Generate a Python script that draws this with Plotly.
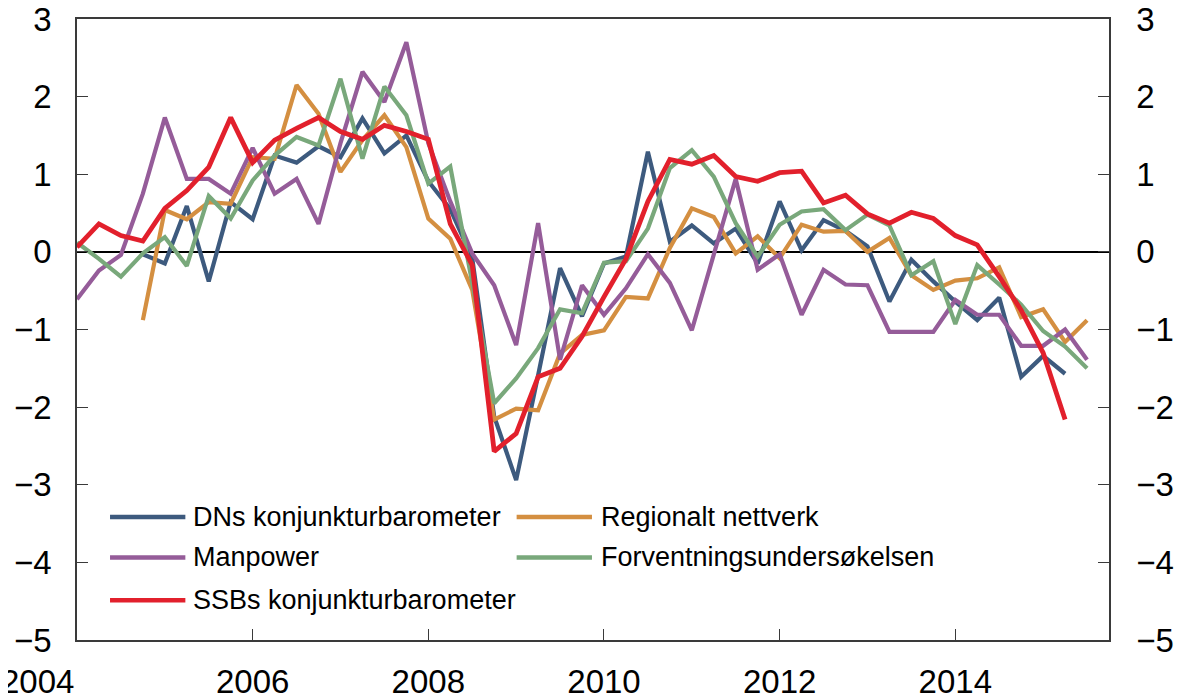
import plotly.graph_objects as go

# Quarterly observations, 2004Q1 .. 2015Q3
start_year = 2004
n_quarters = 47
quarters = [start_year + q * 0.25 for q in range(n_quarters)]

dns = [None, None, None, -0.03, -0.15, 0.59, -0.38, 0.64, 0.42, 1.24,
       1.15, 1.36, 1.22, 1.72, 1.27, 1.50, 0.91, 0.55, -0.08, -2.12,
       -2.94, -1.59, -0.21, -0.83, -0.15, -0.06, 1.29, 0.13, 0.34, 0.11,
       0.30, -0.15, 0.65, 0.02, 0.41, 0.27, 0.07, -0.64, -0.10, -0.38,
       -0.64, -0.88, -0.59, -1.61, -1.34, -1.57, None]

regional = [None, None, None, -0.88, 0.54, 0.42, 0.64, 0.62, 1.22, 1.20,
            2.15, 1.78, 1.03, 1.44, 1.76, 1.35, 0.43, 0.17, -0.49, -2.16,
            -2.02, -2.04, -1.31, -1.07, -1.01, -0.58, -0.60, 0.05, 0.56, 0.45,
            -0.02, 0.20, -0.08, 0.35, 0.26, 0.27, 0.00, 0.18, -0.30, -0.49,
            -0.37, -0.34, -0.20, -0.84, -0.74, -1.16, -0.88]

manpower = [-0.61, -0.24, -0.04, 0.75, 1.73, 0.94, 0.94, 0.75, 1.34, 0.75,
            0.94, 0.36, 1.40, 2.32, 1.93, 2.70, 1.40, 0.65, -0.02, -0.43,
            -1.20, 0.37, -1.39, -0.43, -0.81, -0.47, -0.03, -0.40, -1.01, -0.05,
            0.94, -0.23, -0.03, -0.81, -0.23, -0.42, -0.43, -1.03, -1.03, -1.03,
            -0.62, -0.81, -0.81, -1.21, -1.21, -1.00, -1.39]

forventning = [0.12, -0.09, -0.32, -0.02, 0.19, -0.18, 0.72, 0.43, 0.92, 1.24,
               1.48, 1.37, 2.23, 1.20, 2.13, 1.76, 0.88, 1.10, -0.40, -1.95,
               -1.63, -1.24, -0.74, -0.79, -0.14, -0.12, 0.30, 1.08, 1.31, 0.97,
               0.37, -0.06, 0.35, 0.52, 0.55, 0.28, 0.48, 0.34, -0.30, -0.12,
               -0.93, -0.17, -0.42, -0.68, -1.02, -1.22, -1.50]

ssb = [0.06, 0.36, 0.21, 0.14, 0.56, 0.79, 1.09, 1.73, 1.15, 1.44,
       1.59, 1.73, 1.55, 1.45, 1.63, 1.55, 1.45, 0.36, -0.17, -2.57,
       -2.34, -1.61, -1.50, -1.09, -0.58, -0.09, 0.65, 1.19, 1.13, 1.24,
       0.97, 0.91, 1.02, 1.04, 0.63, 0.73, 0.49, 0.37, 0.51, 0.43,
       0.21, 0.09, -0.32, -0.75, -1.30, -2.16, None]

series_names = ["DNs konjunkturbarometer", "Regionalt nettverk", "Manpower",
                "Forventningsundersøkelsen", "SSBs konjunkturbarometer"]
series_values = [dns, regional, manpower, forventning, ssb]
series_colors = ["#3d5a7e", "#d48f41", "#955c99", "#79a87b", "#e2202c"]
series_widths = [4.2, 4.2, 4.2, 4.2, 4.8]

x_tick_vals = [2004, 2006, 2008, 2010, 2012, 2014]
y_tick_vals = [-5, -4, -3, -2, -1, 0, 1, 2, 3]
x_range = [2004, 2015.75]
y_range = [-5, 3]

FONT = "Liberation Sans, Arial, Helvetica, sans-serif"
TICK_SIZE = 33
LEG_SIZE = 27

fig = go.Figure()
for name, vals, col, w in zip(series_names, series_values, series_colors, series_widths):
    fig.add_trace(go.Scatter(x=quarters, y=vals, name=name, mode="lines",
                             line=dict(color=col, width=w), connectgaps=False,
                             showlegend=False))

# invisible companion trace so the right-hand axis gets its ticks and labels
fig.add_trace(go.Scatter(x=quarters, y=ssb, yaxis="y2", mode="lines",
                         line=dict(color="rgba(0,0,0,0)", width=0),
                         showlegend=False, hoverinfo="skip"))

axis_col = "#3a3a3a"
# page has an 8px body margin, so the figure is 1174x692
fig.update_layout(
    width=1174, height=692,
    margin=dict(l=69, r=73, t=11, b=60, autoexpand=False),
    paper_bgcolor="white", plot_bgcolor="white",
    font=dict(family=FONT, size=LEG_SIZE, color="black"),
    showlegend=False,
    xaxis=dict(range=x_range, tickvals=x_tick_vals[1:],
               ticktext=[str(v) for v in x_tick_vals[1:]],
               ticks="inside", ticklen=11, tickwidth=1.2, tickcolor=axis_col,
               showline=True, linecolor=axis_col, linewidth=1.5, mirror=True,
               showgrid=False, zeroline=False, ticklabelstandoff=12,
               ticklabeloverflow="allow",
               tickfont=dict(family=FONT, size=TICK_SIZE, color="black")),
    yaxis=dict(range=y_range, tickvals=y_tick_vals,
               ticks="inside", ticklen=11, tickwidth=1.2, tickcolor=axis_col,
               showline=True, linecolor=axis_col, linewidth=1.5,
               showgrid=False, zeroline=True, zerolinecolor="black", zerolinewidth=2,
               ticklabelstandoff=17, ticklabeloverflow="allow",
               tickfont=dict(family=FONT, size=TICK_SIZE, color="black")),
    yaxis2=dict(range=y_range, tickvals=y_tick_vals, overlaying="y", side="right",
                anchor="x", ticks="inside", ticklen=11, tickwidth=1.2, tickcolor=axis_col,
                showline=True, linecolor=axis_col, linewidth=1.5,
                showgrid=False, zeroline=False, ticklabelstandoff=19,
                ticklabeloverflow="allow", showticklabels=True,
                tickfont=dict(family=FONT, size=TICK_SIZE, color="black")),
)

# first year label sits left of the axis corner in the original
fig.add_annotation(x=x_tick_vals[0], y=0, xref="x", yref="paper",
                   text=str(x_tick_vals[0]), showarrow=False,
                   xanchor="right", yanchor="middle", yshift=-41, xshift=-1,
                   font=dict(family=FONT, size=TICK_SIZE, color="black"))

# legend drawn as key lines + labels, two columns
leg_cols = [(0.032, 0.105, 0.1105), (0.426, 0.499, 0.5055)]
leg_rows = [0.198, 0.133, 0.064]
leg_slots = [(0, 0), (0, 1), (1, 0), (1, 1), (2, 0)]
for (r, c), name, col in zip(leg_slots, series_names, series_colors):
    x0, x1, xt = leg_cols[c]
    yy = leg_rows[r]
    fig.add_shape(type="line", xref="paper", yref="paper", x0=x0, x1=x1, y0=yy, y1=yy,
                  line=dict(color=col, width=4.5))
    fig.add_annotation(x=xt, y=yy, xref="paper", yref="paper", text=name,
                       showarrow=False, xanchor="left", yanchor="middle",
                       font=dict(family=FONT, size=LEG_SIZE, color="black"))

fig.write_html("out.html")
